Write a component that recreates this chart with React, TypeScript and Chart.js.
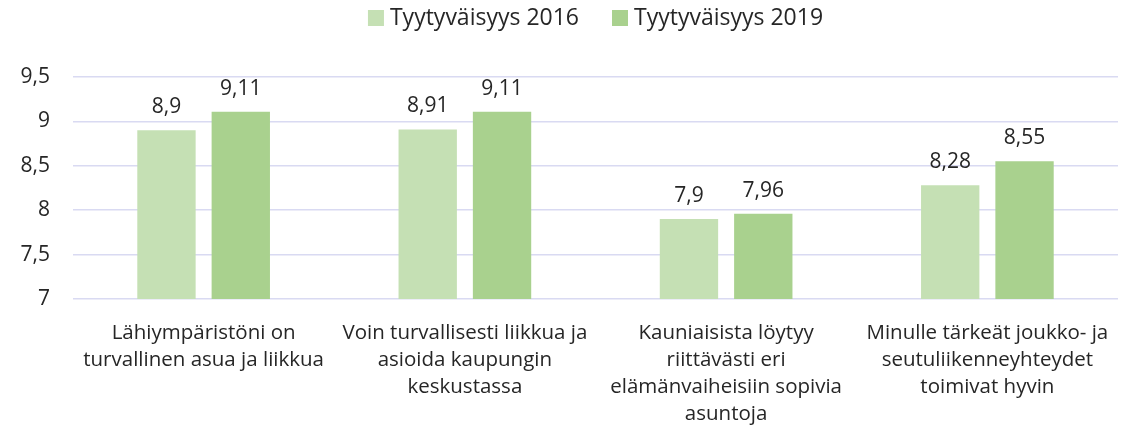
import React, { useEffect, useRef } from "react";
import { Chart, registerables } from "chart.js";

Chart.register(...registerables);

const categories: string[][] = [
  ["Lähiympäristöni on", "turvallinen asua ja liikkua"],
  ["Voin turvallisesti liikkua ja", "asioida kaupungin", "keskustassa"],
  ["Kauniaisista löytyy", "riittävästi eri", "elämänvaiheisiin sopivia", "asuntoja"],
  ["Minulle tärkeät joukko- ja", "seutuliikenneyhteydet", "toimivat hyvin"],
];
const series2016: number[] = [8.9, 8.91, 7.9, 8.28];
const series2019: number[] = [9.11, 9.11, 7.96, 8.55];
const seriesNames: string[] = ["Tyytyväisyys 2016", "Tyytyväisyys 2019"];
const seriesColors: string[] = ["#c5e0b4", "#a9d18e"];
const yMin = 7;
const yMax = 9.5;
const yStep = 0.5;

const FONT = "'Open Sans', sans-serif";
const TEXT = "#262626";

const fmt = (v: number) => String(v).replace(".", ",");

const dataLabels = {
  id: "dataLabels",
  afterDatasetsDraw(chart: any) {
    const ctx = chart.ctx;
    ctx.save();
    ctx.font = `21px ${FONT}`;
    ctx.fillStyle = TEXT;
    ctx.textAlign = "center";
    ctx.textBaseline = "alphabetic";
    chart.data.datasets.forEach((ds: any, i: number) => {
      const meta = chart.getDatasetMeta(i);
      meta.data.forEach((el: any, j: number) => {
        ctx.fillText(fmt(ds.data[j]), el.x, el.y - 17);
      });
    });
    ctx.restore();
  },
};

const topLegend = {
  id: "topLegend",
  afterDraw(chart: any) {
    const ctx = chart.ctx;
    const box = 16;
    const gap = 6;
    const itemGap = 33;
    ctx.save();
    ctx.font = `23px ${FONT}`;
    ctx.textBaseline = "middle";
    ctx.textAlign = "left";
    const items = chart.data.datasets.map((ds: any) => ({
      text: ds.label,
      color: ds.backgroundColor,
      w: ctx.measureText(ds.label).width,
    }));
    const total =
      items.reduce((a: number, it: any) => a + box + gap + it.w, 0) +
      itemGap * (items.length - 1);
    const area = chart.chartArea;
    let x = (area.left + area.right) / 2 - total / 2;
    const cy = 18;
    items.forEach((it: any) => {
      ctx.fillStyle = it.color;
      ctx.fillRect(x, cy - box / 2, box, box);
      x += box + gap;
      ctx.fillStyle = TEXT;
      ctx.fillText(it.text, x, cy);
      x += it.w + itemGap;
    });
    ctx.restore();
  },
};

export default function App() {
  const ref = useRef<HTMLCanvasElement>(null);
  useEffect(() => {
    document.body.style.margin = "0";
    const chart = new Chart(ref.current!, {
      type: "bar",
      data: {
        labels: categories,
        datasets: [
          {
            label: seriesNames[0],
            data: series2016,
            backgroundColor: seriesColors[0],
            barPercentage: 0.785,
            categoryPercentage: 0.569,
          },
          {
            label: seriesNames[1],
            data: series2019,
            backgroundColor: seriesColors[1],
            barPercentage: 0.785,
            categoryPercentage: 0.569,
          },
        ],
      },
      options: {
        animation: false,
        responsive: false,
        maintainAspectRatio: false,
        layout: { padding: { left: 0, right: 22, top: 77, bottom: 0 } },
        plugins: {
          legend: { display: false },
          tooltip: { enabled: false },
        },
        scales: {
          x: {
            grid: { display: false, drawTicks: false },
            border: { display: false },
            afterFit: (s: any) => {
              s.height = 130;
            },
            ticks: {
              font: { family: FONT, size: 20.5, lineHeight: 27 / 20.5 },
              color: TEXT,
              padding: 21,
              maxRotation: 0,
              autoSkip: false,
            },
          },
          y: {
            min: yMin,
            max: yMax,
            grid: { color: "#d9daf2", lineWidth: 1.5, drawTicks: false },
            border: { display: false },
            afterFit: (s: any) => {
              s.width = 73;
            },
            ticks: {
              stepSize: yStep,
              font: { family: FONT, size: 21 },
              color: TEXT,
              padding: 23,
              callback: (v: any) => fmt(Number(v)),
            },
          },
        },
      },
      plugins: [dataLabels, topLegend],
    });
    return () => chart.destroy();
  }, []);
  return (
    <div style={{ width: 1140, height: 429 }}>
      <canvas ref={ref} width={1140} height={429} />
    </div>
  );
}
